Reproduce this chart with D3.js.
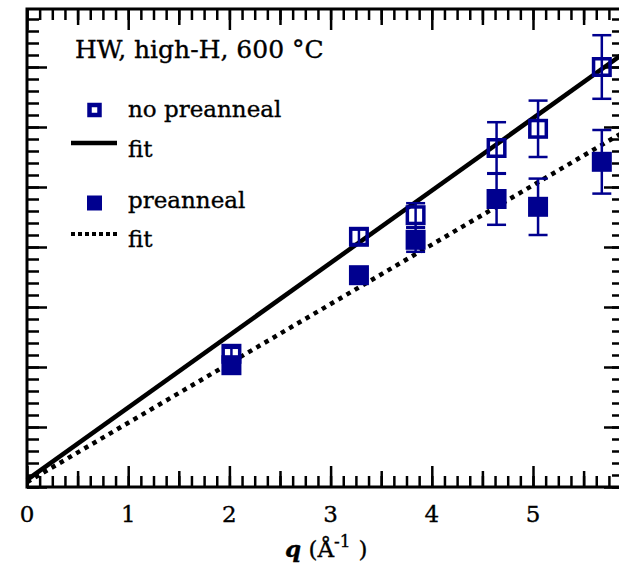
<!DOCTYPE html>
<html>
<head>
<meta charset="utf-8">
<script src="https://cdn.jsdelivr.net/npm/d3@7"></script>
<style>
  body { margin: 0; background: #fff; }
  svg { display: block; font-family: "DejaVu Serif", serif; }
  svg text { fill: #000; stroke: #000; stroke-width: 0.35; }
  .axis path { display: none; }
  .axis line { stroke: #000; stroke-width: 2.5; }
</style>
</head>
<body>
<svg id="chart" width="619" height="566"></svg>
<script>
// q values (Å^-1)
var qNoPre = [2.02, 3.28, 3.84, 4.64, 5.05, 5.68];
var yNoPre = [2.22, 4.17, 4.53, 5.65, 5.97, 7.00];
var eNoPre = [0.10, 0.12, 0.20, 0.43, 0.47, 0.53];

var qPre = [2.02, 3.28, 3.84, 4.64, 5.05, 5.68];
var yPre = [2.03, 3.53, 4.12, 4.80, 4.67, 5.42];
var ePre = [0.08, 0.10, 0.20, 0.43, 0.47, 0.53];

// fit lines, end points
var fitNoPre = [[0, 0.12], [5.9, 7.23]];
var fitPre = [[0, 0.08], [5.9, 5.92]];

var xTickLabels = ["0", "1", "2", "3", "4", "5"];
var titleText = "HW, high-H, 600 °C";

var blue = "#00008f";

(function () {
    var left = 27, right = 624, top = 9, bottom = 487;

    var x = d3.scaleLinear().domain([0, (right - left) / 101.2]).range([left, right]);
    var y = d3.scaleLinear().domain([0, (bottom - top) / 60]).range([bottom, top]);

    var svg = d3.select("#chart");

    var xMax = x.domain()[1], yMax = y.domain()[1];
    var xMinor = d3.range(0, xMax, 0.125);
    var xMid = d3.range(0.5, xMax, 1);
    var xMajor = d3.range(0, xMax, 1);
    var yMinor = d3.range(0, yMax, 0.2);
    var yMajor = d3.range(0, yMax, 1);

    //TICKS (all pointing inward)
    function ticks(axisFn, vals, len, tr) {
        svg.append("g")
            .attr("class", "axis")
            .attr("transform", tr)
            .call(axisFn.tickValues(vals).tickSize(len).tickFormat(""));
    }
    [[xMinor, 11], [xMid, 16], [xMajor, 21]].forEach(function (t) {
        ticks(d3.axisTop(x), t[0], t[1], "translate(0," + bottom + ")");
        ticks(d3.axisBottom(x), t[0], t[1], "translate(0," + top + ")");
    });
    [[yMinor, 12], [yMajor, 20]].forEach(function (t) {
        ticks(d3.axisRight(y), t[0], t[1], "translate(" + left + ",0)");
        ticks(d3.axisLeft(y), t[0], t[1], "translate(" + right + ",0)");
    });

    //FRAME
    svg.append("rect")
        .attr("x", left).attr("y", top)
        .attr("width", right - left).attr("height", bottom - top)
        .attr("fill", "none").attr("stroke", "#000").attr("stroke-width", 3);

    //X TICK LABELS
    svg.append("g").selectAll("text")
        .data(xTickLabels)
        .enter().append("text")
        .attr("x", function (d) { return x(+d); })
        .attr("y", 522)
        .attr("text-anchor", "middle")
        .attr("font-size", 23)
        .text(function (d) { return d; });

    //X TITLE
    var xt = svg.append("text").attr("x", 285).attr("y", 557).attr("font-size", 23);
    xt.append("tspan").attr("font-style", "italic").attr("font-weight", "bold").text("q");
    xt.append("tspan").text(" (Å");
    xt.append("tspan").attr("font-size", 17).attr("dy", -10).text("-1");
    xt.append("tspan").attr("dy", 10).attr("dx", 8).text(")");

    //FIT LINES
    var line = d3.line()
        .x(function (d) { return x(d[0]); })
        .y(function (d) { return y(d[1]); });

    svg.append("path").datum(fitNoPre)
        .attr("d", line).attr("fill", "none")
        .attr("stroke", "#000").attr("stroke-width", 4.5);
    svg.append("path").datum(fitPre)
        .attr("d", line).attr("fill", "none")
        .attr("stroke", "#000").attr("stroke-width", 4.5)
        .attr("stroke-dasharray", "4.5,5");

    //POINTS WITH ERROR BARS
    function series(qs, ys, es, open) {
        var pts = qs.map(function (q, i) { return { q: q, v: ys[i], e: es[i] }; });
        var g = svg.append("g");
        var bars = g.selectAll(".err").data(pts).enter().append("g")
            .attr("stroke", blue).attr("stroke-width", 2.5);
        bars.append("line")
            .attr("x1", function (d) { return x(d.q); })
            .attr("x2", function (d) { return x(d.q); })
            .attr("y1", function (d) { return y(d.v - d.e); })
            .attr("y2", function (d) { return y(d.v + d.e); });
        [-1, 1].forEach(function (s) {
            bars.append("line")
                .attr("x1", function (d) { return x(d.q) - 9.5; })
                .attr("x2", function (d) { return x(d.q) + 9.5; })
                .attr("y1", function (d) { return y(d.v + s * d.e); })
                .attr("y2", function (d) { return y(d.v + s * d.e); });
        });
        var side = open ? 16.5 : 20;
        g.selectAll(".pt").data(pts).enter().append("rect")
            .attr("x", function (d) { return x(d.q) - side / 2; })
            .attr("y", function (d) { return y(d.v) - side / 2; })
            .attr("width", side).attr("height", side)
            .attr("fill", open ? "none" : blue)
            .attr("stroke", open ? blue : "none")
            .attr("stroke-width", 3.5);
    }
    series(qPre, yPre, ePre, false);
    series(qNoPre, yNoPre, eNoPre, true);

    //LEGEND
    svg.append("text").attr("x", 75).attr("y", 58).attr("font-size", 25).text(titleText);

    svg.append("rect").attr("x", 89.5).attr("y", 105).attr("width", 10).attr("height", 10)
        .attr("fill", "none").attr("stroke", blue).attr("stroke-width", 4.5);
    svg.append("text").attr("x", 128).attr("y", 117).attr("font-size", 23).text("no preanneal");

    svg.append("line").attr("x1", 71).attr("x2", 117).attr("y1", 143).attr("y2", 143)
        .attr("stroke", "#000").attr("stroke-width", 4.5);
    svg.append("text").attr("x", 128).attr("y", 157).attr("font-size", 23).text("fit");

    svg.append("rect").attr("x", 87).attr("y", 195.5).attr("width", 15).attr("height", 15)
        .attr("fill", blue);
    svg.append("text").attr("x", 128).attr("y", 208).attr("font-size", 23).text("preanneal");

    svg.append("line").attr("x1", 71).attr("x2", 117).attr("y1", 234).attr("y2", 234)
        .attr("stroke", "#000").attr("stroke-width", 4)
        .attr("stroke-dasharray", "4,3");
    svg.append("text").attr("x", 128).attr("y", 247).attr("font-size", 23).text("fit");
})();
</script>
</body>
</html>
